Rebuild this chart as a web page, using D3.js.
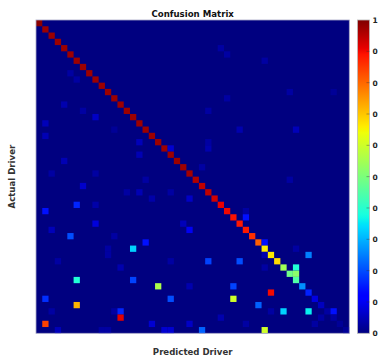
<!DOCTYPE html>
<html>
<head>
<meta charset="utf-8">
<script src="https://cdn.jsdelivr.net/npm/d3@7"></script>
<style>
  html, body { margin: 0; padding: 0; background: #fff; }
  svg { display: block; }
  text { font-family: "DejaVu Sans", sans-serif; }
</style>
</head>
<body>
<svg id="chart" width="378" height="358"></svg>
<script>
// ---- data ----
const drivers = d3.range(1, 51).map(d => "Driver " + d);

// diagonal (correct classification rate per actual driver)
const diagonal = [
  0.99, 0.975, 0.975, 0.975, 0.975, 0.975, 0.975, 0.975, 0.975, 0.975,
  0.975, 0.975, 0.975, 0.975, 0.975, 0.975, 0.975, 0.975, 0.975, 0.975,
  0.975, 0.975, 0.975, 0.972, 0.97, 0.958, 0.945, 0.945, 0.93, 0.91,
  0.903, 0.892, 0.886, 0.884, 0.86, 0.81, 0.66, 0.665, 0.68, 0.545,
  0.486, 0.447, 0.265, 0.156, 0.083, 0.055, 0.03, 0.03, 0.02, 0.02
];

// off-diagonal confusions: actual row, predicted column, rate
const offRows = [
  4, 5, 6, 8, 9, 11, 11, 12, 13, 14, 14, 15, 16, 17, 17, 17, 18, 19, 19, 20, 20, 21, 22,
  23, 24, 24, 25, 25, 26, 27, 27, 27, 28, 28, 29, 29, 30, 30, 31, 32, 32, 33, 33, 34, 34,
  35, 35, 36, 36, 36,
  37, 37, 37, 38, 38, 38, 38, 39, 39, 39, 40, 41, 41, 42, 42, 42, 43, 44, 44, 44,
  45, 45, 46, 46, 46, 46, 46, 46, 46, 47, 47, 47, 48, 48, 48, 48, 48,
  49, 49, 49, 49, 49, 49, 49
];
const offCols = [
  29, 30, 36, 5, 6, 40, 47, 30, 4, 7, 27, 9, 1, 12, 32, 41, 1, 16, 27, 21, 27, 16, 4,
  26, 2, 9, 17, 40, 7, 14, 16, 21, 18, 24, 6, 9, 1, 33, 33, 9, 23, 2, 24, 5, 12,
  17, 36, 15, 11, 41,
  11, 36, 43, 3, 21, 27, 32, 13, 36, 41, 41, 6, 15, 19, 24, 31, 37, 1, 21, 31,
  6, 35, 2, 12, 13, 37, 39, 43, 47, 13, 29, 45, 1, 18, 24, 33, 44,
  3, 10, 11, 20, 21, 26, 36
];
const offValues = [
  0.03, 0.03, 0.03, 0.03, 0.03, 0.03, 0.02, 0.03, 0.04, 0.03, 0.03, 0.06, 0.05, 0.02, 0.04, 0.05, 0.045, 0.05, 0.03, 0.07, 0.04, 0.045, 0.045,
  0.03, 0.03, 0.03, 0.03, 0.03, 0.065, 0.03, 0.045, 0.03, 0.035, 0.06, 0.16, 0.035, 0.14, 0.03, 0.14, 0.08, 0.05, 0.05, 0.1, 0.2, 0.03,
  0.14, 0.14, 0.33, 0.03, 0.03,
  0.03, 0.04, 0.25, 0.03, 0.03, 0.19, 0.2, 0.04, 0.03, 0.39, 0.52, 0.39, 0.19, 0.56, 0.04, 0.19, 0.9, 0.17, 0.2, 0.6,
  0.72, 0.22, 0.03, 0.03, 0.16, 0.03, 0.33, 0.36, 0.14, 0.915, 0.04, 0.03, 0.84, 0.07, 0.06, 0.03, 0.03,
  0.05, 0.03, 0.03, 0.07, 0.07, 0.22, 0.6
];

const colorTicks = [0, 0.1, 0.2, 0.3, 0.4, 0.5, 0.6, 0.7, 0.8, 0.9, 1];

// ---- build matrix ----
const n = drivers.length;
const cells = [];
for (let r = 0; r < n; r++) for (let c = 0; c < n; c++) cells.push({ r, c, v: r === c ? diagonal[r] : 0 });
offRows.forEach((r, i) => { cells[r * n + offCols[i]].v = offValues[i]; });

// ---- jet colormap (matplotlib segments) ----
function seg(pts, x) {
  for (let i = 1; i < pts.length; i++) {
    if (x <= pts[i][0]) {
      const [x0, y0] = pts[i - 1], [x1, y1] = pts[i];
      return y0 + (y1 - y0) * (x - x0) / (x1 - x0);
    }
  }
  return pts[pts.length - 1][1];
}
const R = [[0, 0], [0.35, 0], [0.66, 1], [0.89, 1], [1, 0.5]];
const G = [[0, 0], [0.125, 0], [0.375, 1], [0.64, 1], [0.91, 0], [1, 0]];
const B = [[0, 0.5], [0.11, 1], [0.34, 1], [0.65, 0], [1, 0]];
function jet(v) {
  v = Math.max(0, Math.min(1, v));
  return d3.rgb(255 * seg(R, v), 255 * seg(G, v), 255 * seg(B, v)).formatHex();
}

// ---- layout ----
const svg = d3.select("#chart");
const L = 36, T = 20, S = 313.3;
const x = d3.scaleBand().domain(d3.range(n)).range([L, L + S]);
const y = d3.scaleBand().domain(d3.range(n)).range([T, T + S]);

// background (value 0) underneath to avoid seams
svg.append("rect").attr("x", L).attr("y", T).attr("width", S).attr("height", S).attr("fill", jet(0));

svg.append("g")
  .selectAll("rect").data(cells.filter(d => d.v > 0)).join("rect")
  .attr("x", d => x(d.c))
  .attr("y", d => y(d.r))
  .attr("width", x.bandwidth())
  .attr("height", y.bandwidth())
  .attr("fill", d => jet(d.v));

svg.append("rect")
  .attr("x", L).attr("y", T).attr("width", S).attr("height", S)
  .attr("fill", "none").attr("stroke", "#a9a9c6").attr("stroke-width", 0.8);

// title & labels
svg.append("text").attr("x", L + S / 2).attr("y", 16.5)
  .attr("text-anchor", "middle").attr("font-size", 8.6).attr("font-weight", "bold")
  .attr("fill", "#111").text("Confusion Matrix");

svg.append("text").attr("x", L + S / 2).attr("y", 355)
  .attr("text-anchor", "middle").attr("font-size", 8.6).attr("font-weight", "bold")
  .attr("fill", "#333").text("Predicted Driver");

svg.append("text")
  .attr("transform", `translate(15,${T + S / 2}) rotate(-90)`)
  .attr("text-anchor", "middle").attr("font-size", 8.6).attr("font-weight", "bold")
  .attr("fill", "#333").text("Actual Driver");

// ---- colorbar ----
const cbX = 357.5, cbW = 12;
const cScale = d3.scaleLinear().domain([0, 1]).range([T + S, T]);
const defs = svg.append("defs");
const grad = defs.append("linearGradient").attr("id", "jetgrad")
  .attr("x1", 0).attr("y1", 1).attr("x2", 0).attr("y2", 0);
d3.range(0, 1.0001, 0.01).forEach(t => grad.append("stop").attr("offset", t).attr("stop-color", jet(t)));

svg.append("rect").attr("x", cbX).attr("y", T).attr("width", cbW).attr("height", S)
  .attr("fill", "url(#jetgrad)").attr("stroke", "#b8b8b8").attr("stroke-width", 0.8);

const cAxis = svg.append("g").attr("transform", `translate(${cbX + cbW},0)`)
  .call(d3.axisRight(cScale).tickValues(colorTicks).tickSize(0).tickPadding(3).tickFormat(d3.format("~g")));
cAxis.select(".domain").remove();
cAxis.selectAll("text").attr("font-size", 7.5).attr("font-weight", "bold").attr("fill", "#222")
  .attr("font-family", "DejaVu Sans, sans-serif");

svg.append("g").selectAll("line").data(colorTicks.slice(1, -1)).join("line")
  .attr("x1", cbX + cbW - 3).attr("x2", cbX + cbW)
  .attr("y1", d => cScale(d)).attr("y2", d => cScale(d))
  .attr("stroke", "#333").attr("stroke-opacity", 0.5).attr("stroke-width", 0.8);
</script>
</body>
</html>
